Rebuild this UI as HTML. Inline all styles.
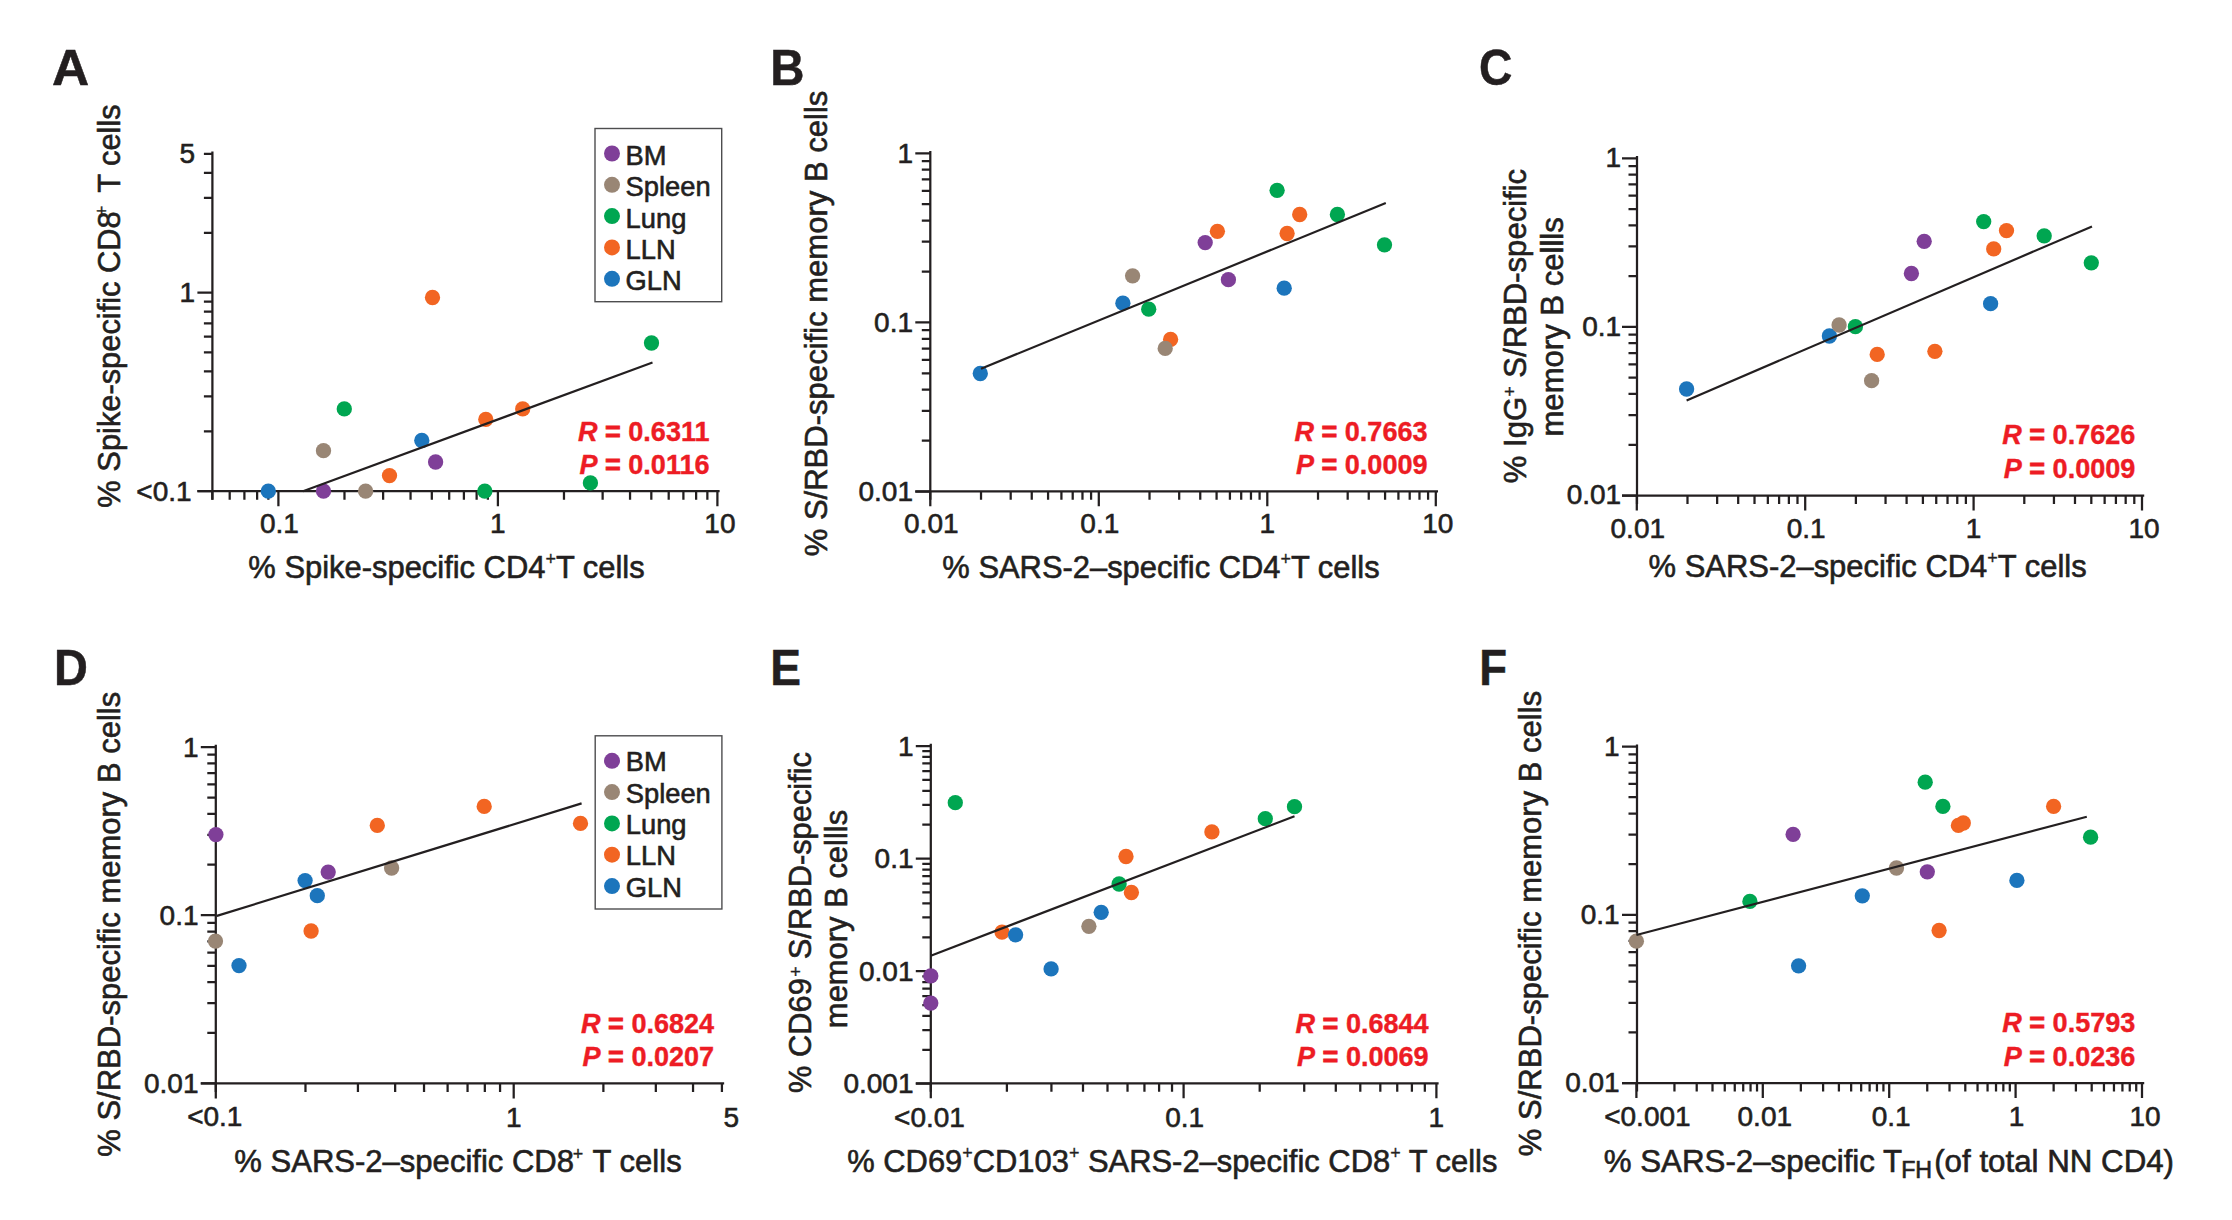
<!DOCTYPE html>
<html lang="en"><head><meta charset="utf-8"><title>Figure</title>
<style>
html,body{margin:0;padding:0;background:#fff;}
body{width:2232px;height:1220px;overflow:hidden;}
svg{display:block;font-family:"Liberation Sans",sans-serif;}
</style></head><body>
<svg width="2232" height="1220" viewBox="0 0 2232 1220">
<rect width="2232" height="1220" fill="#fff"/>
<g fill="none" stroke="#231f20" stroke-width="2.25"><path d="M212.40 151.53V499.70M197.40 491.20H719.62" /><path d="M278.40 491.20v15M497.90 491.20v15M717.40 491.20v15M212.32 491.20v8.5M229.70 491.20v8.5M244.40 491.20v8.5M257.13 491.20v8.5M268.36 491.20v8.5M344.48 491.20v8.5M383.13 491.20v8.5M410.55 491.20v8.5M431.82 491.20v8.5M449.20 491.20v8.5M463.90 491.20v8.5M476.63 491.20v8.5M487.86 491.20v8.5M563.98 491.20v8.5M602.63 491.20v8.5M630.05 491.20v8.5M651.32 491.20v8.5M668.70 491.20v8.5M683.40 491.20v8.5M696.13 491.20v8.5M707.36 491.20v8.5M212.40 491.00h-15M212.40 292.50h-15M212.40 153.75h-8.5M212.40 431.25h-8.5M212.40 396.29h-8.5M212.40 371.49h-8.5M212.40 352.25h-8.5M212.40 336.54h-8.5M212.40 323.25h-8.5M212.40 311.74h-8.5M212.40 301.58h-8.5M212.40 232.75h-8.5M212.40 197.79h-8.5M212.40 172.99h-8.5" /></g>
<g font-size="28" fill="#231f20" stroke="#231f20" stroke-width="0.6"><text x="279.40" y="533.00" text-anchor="middle">0.1</text><text x="497.90" y="533.00" text-anchor="middle">1</text><text x="719.90" y="533.00" text-anchor="middle">10</text><text x="191.60" y="500.70" text-anchor="end">&lt;0.1</text><text x="195.10" y="302.20" text-anchor="end">1</text><text x="195.10" y="163.45" text-anchor="end">5</text></g>
<g><circle cx="268.3" cy="491.2" r="7.65" fill="#1c75bc"/><circle cx="323.5" cy="491.2" r="7.65" fill="#7f3f98"/><circle cx="365.6" cy="491.2" r="7.65" fill="#998675"/><circle cx="484.8" cy="491.2" r="7.65" fill="#00a651"/><circle cx="590.4" cy="482.9" r="7.65" fill="#00a651"/><circle cx="389.5" cy="475.6" r="7.65" fill="#f26522"/><circle cx="435.6" cy="462.0" r="7.65" fill="#7f3f98"/><circle cx="323.5" cy="450.7" r="7.65" fill="#998675"/><circle cx="421.8" cy="440.5" r="7.65" fill="#1c75bc"/><circle cx="485.8" cy="419.4" r="7.65" fill="#f26522"/><circle cx="522.7" cy="408.9" r="7.65" fill="#f26522"/><circle cx="344.3" cy="408.9" r="7.65" fill="#00a651"/><circle cx="432.5" cy="297.5" r="7.65" fill="#f26522"/><circle cx="651.5" cy="343.0" r="7.65" fill="#00a651"/></g>
<path d="M303 491.2L652.5 362.5" stroke="#231f20" stroke-width="2.2" fill="none"/>
<g font-size="27.6" font-weight="bold" fill="#ed1c24" stroke="#ed1c24" stroke-width="0.4" text-anchor="end"><text transform="translate(709.5 440.7) scale(0.98 1)"><tspan font-style="italic">R</tspan><tspan stroke-width="0.8"> = </tspan>0.6311</text><text transform="translate(709.5 473.8) scale(0.98 1)"><tspan font-style="italic">P</tspan><tspan stroke-width="0.8"> = </tspan>0.0116</text></g>
<text transform="translate(52.12 84.50) scale(1.0360 1)" font-size="49.71" font-weight="bold" fill="#231f20" stroke="#231f20" stroke-width="0.5">A</text>
<text x="446.5" y="577.80" font-size="31" fill="#231f20" stroke="#231f20" stroke-width="0.6" text-anchor="middle" textLength="396.3" lengthAdjust="spacingAndGlyphs">% Spike-specific CD4<tspan dy="-12.8" dx="0" font-size="18" stroke-width="0.3">+</tspan><tspan dy="12.8" dx="0">T cells</tspan></text>
<text transform="translate(120 306) rotate(-90)" font-size="31" fill="#231f20" stroke="#231f20" stroke-width="0.6" text-anchor="middle" textLength="403.3" lengthAdjust="spacingAndGlyphs">% Spike-specific CD8<tspan dy="-12.3" dx="-4.6" font-size="18" stroke-width="0.3">+</tspan><tspan dy="12.3" dx="4.6"> T cells</tspan></text>
<rect x="595" y="128.5" width="126.70000000000005" height="173.2" fill="#fff" stroke="#4d4d4f" stroke-width="1.4"/>
<g font-size="27.3" fill="#231f20" stroke="#231f20" stroke-width="0.6"><circle cx="612" cy="153.5" r="8" fill="#7f3f98" stroke="none"/><text x="625.6" y="165.2">BM</text><circle cx="612" cy="184.8" r="8" fill="#998675" stroke="none"/><text x="625.6" y="196.3">Spleen</text><circle cx="612" cy="216.1" r="8" fill="#00a651" stroke="none"/><text x="625.6" y="227.5">Lung</text><circle cx="612" cy="247.4" r="8" fill="#f26522" stroke="none"/><text x="625.6" y="258.6">LLN</text><circle cx="612" cy="278.8" r="8" fill="#1c75bc" stroke="none"/><text x="625.6" y="289.8">GLN</text></g>
<g fill="none" stroke="#231f20" stroke-width="2.25"><path d="M930.30 151.08V499.80M915.30 491.30H1438.02" /><path d="M930.30 491.30v15M1098.80 491.30v15M1267.30 491.30v15M1435.80 491.30v15M981.02 491.30v8.5M1010.69 491.30v8.5M1031.75 491.30v8.5M1048.08 491.30v8.5M1061.42 491.30v8.5M1072.70 491.30v8.5M1082.47 491.30v8.5M1091.09 491.30v8.5M1149.52 491.30v8.5M1179.19 491.30v8.5M1200.25 491.30v8.5M1216.58 491.30v8.5M1229.92 491.30v8.5M1241.20 491.30v8.5M1250.97 491.30v8.5M1259.59 491.30v8.5M1318.02 491.30v8.5M1347.69 491.30v8.5M1368.75 491.30v8.5M1385.08 491.30v8.5M1398.42 491.30v8.5M1409.70 491.30v8.5M1419.47 491.30v8.5M1428.09 491.30v8.5M930.30 491.50h-15M930.30 322.40h-15M930.30 153.30h-15M930.30 440.60h-8.5M930.30 410.82h-8.5M930.30 389.69h-8.5M930.30 373.30h-8.5M930.30 359.91h-8.5M930.30 348.59h-8.5M930.30 338.79h-8.5M930.30 330.14h-8.5M930.30 271.50h-8.5M930.30 241.72h-8.5M930.30 220.59h-8.5M930.30 204.20h-8.5M930.30 190.81h-8.5M930.30 179.49h-8.5M930.30 169.69h-8.5M930.30 161.04h-8.5" /></g>
<g font-size="28" fill="#231f20" stroke="#231f20" stroke-width="0.6"><text x="931.30" y="533.30" text-anchor="middle">0.01</text><text x="1099.80" y="533.30" text-anchor="middle">0.1</text><text x="1267.30" y="533.30" text-anchor="middle">1</text><text x="1437.80" y="533.30" text-anchor="middle">10</text><text x="913.00" y="501.20" text-anchor="end">0.01</text><text x="913.00" y="332.10" text-anchor="end">0.1</text><text x="913.00" y="163.00" text-anchor="end">1</text></g>
<g><circle cx="1277.1" cy="190.3" r="7.65" fill="#00a651"/><circle cx="1299.7" cy="214.5" r="7.65" fill="#f26522"/><circle cx="1337.4" cy="214.5" r="7.65" fill="#00a651"/><circle cx="1217.4" cy="231.3" r="7.65" fill="#f26522"/><circle cx="1287.1" cy="233.5" r="7.65" fill="#f26522"/><circle cx="1205.2" cy="242.6" r="7.65" fill="#7f3f98"/><circle cx="1384.5" cy="244.8" r="7.65" fill="#00a651"/><circle cx="1132.6" cy="275.8" r="7.65" fill="#998675"/><circle cx="1228.4" cy="279.7" r="7.65" fill="#7f3f98"/><circle cx="1284.2" cy="288.2" r="7.65" fill="#1c75bc"/><circle cx="1122.9" cy="303.2" r="7.65" fill="#1c75bc"/><circle cx="1148.7" cy="309.2" r="7.65" fill="#00a651"/><circle cx="980.3" cy="373.5" r="7.65" fill="#1c75bc"/><circle cx="1170.6" cy="339.4" r="7.65" fill="#f26522"/><circle cx="1165.2" cy="348.4" r="7.65" fill="#998675"/></g>
<path d="M981 368.7L1385.8 202.9" stroke="#231f20" stroke-width="2.2" fill="none"/>
<g font-size="27.6" font-weight="bold" fill="#ed1c24" stroke="#ed1c24" stroke-width="0.4" text-anchor="end"><text transform="translate(1427.5 440.8) scale(0.98 1)"><tspan font-style="italic">R</tspan><tspan stroke-width="0.8"> = </tspan>0.7663</text><text transform="translate(1427.5 474.0) scale(0.98 1)"><tspan font-style="italic">P</tspan><tspan stroke-width="0.8"> = </tspan>0.0009</text></g>
<text transform="translate(770.23 84.50) scale(0.9533 1)" font-size="49.71" font-weight="bold" fill="#231f20" stroke="#231f20" stroke-width="0.5">B</text>
<text x="1161" y="577.60" font-size="31" fill="#231f20" stroke="#231f20" stroke-width="0.6" text-anchor="middle" textLength="437.3" lengthAdjust="spacingAndGlyphs">% SARS-2–specific CD4<tspan dy="-12.8" dx="0" font-size="18" stroke-width="0.3">+</tspan><tspan dy="12.8" dx="0">T cells</tspan></text>
<text transform="translate(826.6 323.5) rotate(-90)" font-size="31" fill="#231f20" stroke="#231f20" stroke-width="0.6" text-anchor="middle" textLength="465.7" lengthAdjust="spacingAndGlyphs">% S/RBD-specific memory B cells</text>
<g fill="none" stroke="#231f20" stroke-width="2.25"><path d="M1637.00 156.08V504.00M1622.00 495.50H2144.22" /><path d="M1636.80 495.50v15M1805.20 495.50v15M1973.60 495.50v15M2142.00 495.50v15M1687.49 495.50v8.5M1717.15 495.50v8.5M1738.19 495.50v8.5M1754.51 495.50v8.5M1767.84 495.50v8.5M1779.11 495.50v8.5M1788.88 495.50v8.5M1797.49 495.50v8.5M1855.89 495.50v8.5M1885.55 495.50v8.5M1906.59 495.50v8.5M1922.91 495.50v8.5M1936.24 495.50v8.5M1947.51 495.50v8.5M1957.28 495.50v8.5M1965.89 495.50v8.5M2024.29 495.50v8.5M2053.95 495.50v8.5M2074.99 495.50v8.5M2091.31 495.50v8.5M2104.64 495.50v8.5M2115.91 495.50v8.5M2125.68 495.50v8.5M2134.29 495.50v8.5M1637.00 495.50h-15M1637.00 326.90h-15M1637.00 158.30h-15M1637.00 444.75h-8.5M1637.00 415.06h-8.5M1637.00 393.99h-8.5M1637.00 377.65h-8.5M1637.00 364.30h-8.5M1637.00 353.02h-8.5M1637.00 343.24h-8.5M1637.00 334.61h-8.5M1637.00 276.15h-8.5M1637.00 246.46h-8.5M1637.00 225.39h-8.5M1637.00 209.05h-8.5M1637.00 195.70h-8.5M1637.00 184.42h-8.5M1637.00 174.64h-8.5M1637.00 166.01h-8.5" /></g>
<g font-size="28" fill="#231f20" stroke="#231f20" stroke-width="0.6"><text x="1637.80" y="537.50" text-anchor="middle">0.01</text><text x="1806.20" y="537.50" text-anchor="middle">0.1</text><text x="1973.60" y="537.50" text-anchor="middle">1</text><text x="2144.00" y="537.50" text-anchor="middle">10</text><text x="1621.20" y="504.20" text-anchor="end">0.01</text><text x="1621.20" y="335.60" text-anchor="end">0.1</text><text x="1621.20" y="167.00" text-anchor="end">1</text></g>
<g><circle cx="1983.7" cy="221.6" r="7.65" fill="#00a651"/><circle cx="2006.5" cy="230.6" r="7.65" fill="#f26522"/><circle cx="2044.2" cy="235.8" r="7.65" fill="#00a651"/><circle cx="1924.2" cy="241.3" r="7.65" fill="#7f3f98"/><circle cx="1993.7" cy="248.9" r="7.65" fill="#f26522"/><circle cx="2091.3" cy="262.8" r="7.65" fill="#00a651"/><circle cx="1911.4" cy="273.5" r="7.65" fill="#7f3f98"/><circle cx="1990.6" cy="303.7" r="7.65" fill="#1c75bc"/><circle cx="1686.6" cy="389.0" r="7.65" fill="#1c75bc"/><circle cx="1829.4" cy="336.0" r="7.65" fill="#1c75bc"/><circle cx="1839.1" cy="325.0" r="7.65" fill="#998675"/><circle cx="1855.4" cy="326.7" r="7.65" fill="#00a651"/><circle cx="1877.2" cy="354.4" r="7.65" fill="#f26522"/><circle cx="1871.6" cy="380.7" r="7.65" fill="#998675"/><circle cx="1934.9" cy="351.3" r="7.65" fill="#f26522"/></g>
<path d="M1686.6 400.4L2092 226.4" stroke="#231f20" stroke-width="2.2" fill="none"/>
<g font-size="27.6" font-weight="bold" fill="#ed1c24" stroke="#ed1c24" stroke-width="0.4" text-anchor="end"><text transform="translate(2135.3 444.1) scale(0.98 1)"><tspan font-style="italic">R</tspan><tspan stroke-width="0.8"> = </tspan>0.7626</text><text transform="translate(2135.3 477.7) scale(0.98 1)"><tspan font-style="italic">P</tspan><tspan stroke-width="0.8"> = </tspan>0.0009</text></g>
<text transform="translate(1479.01 85.00) scale(0.9110 1)" font-size="50.71" font-weight="bold" fill="#231f20" stroke="#231f20" stroke-width="0.5">C</text>
<text x="1867.6" y="577.20" font-size="31" fill="#231f20" stroke="#231f20" stroke-width="0.6" text-anchor="middle" textLength="438.1" lengthAdjust="spacingAndGlyphs">% SARS-2–specific CD4<tspan dy="-12.8" dx="0" font-size="18" stroke-width="0.3">+</tspan><tspan dy="12.8" dx="0">T cells</tspan></text>
<text transform="translate(1525.9 326) rotate(-90)" font-size="31" fill="#231f20" stroke="#231f20" stroke-width="0.6" text-anchor="middle" textLength="314.3" lengthAdjust="spacingAndGlyphs">% IgG<tspan dy="-9.5" dx="0" font-size="18" stroke-width="0.3">+</tspan><tspan dy="9.5" dx="0"> S/RBD-specific</tspan></text>
<text transform="translate(1562.6 326.9) rotate(-90)" font-size="31" fill="#231f20" stroke="#231f20" stroke-width="0.6" text-anchor="middle" textLength="219.3" lengthAdjust="spacingAndGlyphs">memory B cellls</text>
<g fill="none" stroke="#231f20" stroke-width="2.25"><path d="M215.80 744.78V1091.90M200.80 1083.40H724.15" /><path d="M215.80 1083.40v15M513.70 1083.40v15M721.92 1083.40v8.5M305.48 1083.40v8.5M357.93 1083.40v8.5M395.15 1083.40v8.5M424.02 1083.40v8.5M447.61 1083.40v8.5M467.55 1083.40v8.5M484.83 1083.40v8.5M500.07 1083.40v8.5M603.38 1083.40v8.5M655.83 1083.40v8.5M693.05 1083.40v8.5M215.80 1083.40h-15M215.80 915.20h-15M215.80 747.00h-15M215.80 1032.77h-8.5M215.80 1003.15h-8.5M215.80 982.13h-8.5M215.80 965.83h-8.5M215.80 952.51h-8.5M215.80 941.25h-8.5M215.80 931.50h-8.5M215.80 922.90h-8.5M215.80 864.57h-8.5M215.80 834.95h-8.5M215.80 813.93h-8.5M215.80 797.63h-8.5M215.80 784.31h-8.5M215.80 773.05h-8.5M215.80 763.30h-8.5M215.80 754.70h-8.5" /></g>
<g font-size="28" fill="#231f20" stroke="#231f20" stroke-width="0.6"><text x="214.80" y="1125.50" text-anchor="middle">&lt;0.1</text><text x="513.70" y="1126.70" text-anchor="middle">1</text><text x="731.22" y="1126.70" text-anchor="middle">5</text><text x="198.50" y="1093.10" text-anchor="end">0.01</text><text x="198.50" y="924.90" text-anchor="end">0.1</text><text x="198.50" y="756.70" text-anchor="end">1</text></g>
<g><circle cx="215.9" cy="834.6" r="7.65" fill="#7f3f98"/><circle cx="377.3" cy="825.4" r="7.65" fill="#f26522"/><circle cx="484.2" cy="806.4" r="7.65" fill="#f26522"/><circle cx="580.5" cy="823.4" r="7.65" fill="#f26522"/><circle cx="391.6" cy="868.0" r="7.65" fill="#998675"/><circle cx="328.2" cy="872.1" r="7.65" fill="#7f3f98"/><circle cx="305.1" cy="880.6" r="7.65" fill="#1c75bc"/><circle cx="317.3" cy="895.7" r="7.65" fill="#1c75bc"/><circle cx="311.1" cy="931.0" r="7.65" fill="#f26522"/><circle cx="215.5" cy="941.1" r="7.65" fill="#998675"/><circle cx="239.0" cy="965.6" r="7.65" fill="#1c75bc"/></g>
<path d="M216.9 915.9L581.6 803.4" stroke="#231f20" stroke-width="2.2" fill="none"/>
<g font-size="27.6" font-weight="bold" fill="#ed1c24" stroke="#ed1c24" stroke-width="0.4" text-anchor="end"><text transform="translate(714.1 1032.8) scale(0.98 1)"><tspan font-style="italic">R</tspan><tspan stroke-width="0.8"> = </tspan>0.6824</text><text transform="translate(714.1 1065.8) scale(0.98 1)"><tspan font-style="italic">P</tspan><tspan stroke-width="0.8"> = </tspan>0.0207</text></g>
<text transform="translate(54.06 684.50) scale(0.9447 1)" font-size="49.71" font-weight="bold" fill="#231f20" stroke="#231f20" stroke-width="0.5">D</text>
<text x="458" y="1171.70" font-size="31" fill="#231f20" stroke="#231f20" stroke-width="0.6" text-anchor="middle" textLength="447.3" lengthAdjust="spacingAndGlyphs">% SARS-2–specific CD8<tspan dy="-12" dx="-1.2" font-size="18" stroke-width="0.3">+</tspan><tspan dy="12" dx="1.2"> T cells</tspan></text>
<text transform="translate(120.2 924.3) rotate(-90)" font-size="31" fill="#231f20" stroke="#231f20" stroke-width="0.6" text-anchor="middle" textLength="464.9" lengthAdjust="spacingAndGlyphs">% S/RBD-specific memory B cells</text>
<rect x="595.2" y="735.8" width="126.69999999999993" height="173.20000000000005" fill="#fff" stroke="#4d4d4f" stroke-width="1.4"/>
<g font-size="27.3" fill="#231f20" stroke="#231f20" stroke-width="0.6"><circle cx="612.0" cy="760.8" r="8" fill="#7f3f98" stroke="none"/><text x="625.8" y="771.1">BM</text><circle cx="612.0" cy="792.1" r="8" fill="#998675" stroke="none"/><text x="625.8" y="802.8">Spleen</text><circle cx="612.0" cy="823.4" r="8" fill="#00a651" stroke="none"/><text x="625.8" y="834.0">Lung</text><circle cx="612.0" cy="854.7" r="8" fill="#f26522" stroke="none"/><text x="625.8" y="865.1">LLN</text><circle cx="612.0" cy="886.1" r="8" fill="#1c75bc" stroke="none"/><text x="625.8" y="897.1">GLN</text></g>
<g fill="none" stroke="#231f20" stroke-width="2.25"><path d="M930.80 743.83V1091.80M915.80 1083.30H1438.62" /><path d="M930.80 1083.30v15M1183.60 1083.30v15M1436.40 1083.30v15M1006.90 1083.30v8.5M1051.42 1083.30v8.5M1083.00 1083.30v8.5M1107.50 1083.30v8.5M1127.52 1083.30v8.5M1144.44 1083.30v8.5M1159.10 1083.30v8.5M1172.03 1083.30v8.5M1259.70 1083.30v8.5M1304.22 1083.30v8.5M1335.80 1083.30v8.5M1360.30 1083.30v8.5M1380.32 1083.30v8.5M1397.24 1083.30v8.5M1411.90 1083.30v8.5M1424.83 1083.30v8.5M930.80 1083.70h-15M930.80 971.15h-15M930.80 858.60h-15M930.80 746.05h-15M930.80 1049.82h-8.5M930.80 1030.00h-8.5M930.80 1015.94h-8.5M930.80 1005.03h-8.5M930.80 996.12h-8.5M930.80 988.58h-8.5M930.80 982.06h-8.5M930.80 976.30h-8.5M930.80 937.27h-8.5M930.80 917.45h-8.5M930.80 903.39h-8.5M930.80 892.48h-8.5M930.80 883.57h-8.5M930.80 876.03h-8.5M930.80 869.51h-8.5M930.80 863.75h-8.5M930.80 824.72h-8.5M930.80 804.90h-8.5M930.80 790.84h-8.5M930.80 779.93h-8.5M930.80 771.02h-8.5M930.80 763.48h-8.5M930.80 756.96h-8.5M930.80 751.20h-8.5" /></g>
<g font-size="28" fill="#231f20" stroke="#231f20" stroke-width="0.6"><text x="929.50" y="1126.60" text-anchor="middle">&lt;0.01</text><text x="1184.60" y="1126.60" text-anchor="middle">0.1</text><text x="1436.40" y="1126.60" text-anchor="middle">1</text><text x="913.50" y="1093.40" text-anchor="end">0.001</text><text x="913.50" y="980.85" text-anchor="end">0.01</text><text x="913.50" y="868.30" text-anchor="end">0.1</text><text x="913.50" y="755.75" text-anchor="end">1</text></g>
<g><circle cx="955.3" cy="802.7" r="7.65" fill="#00a651"/><circle cx="1294.5" cy="806.7" r="7.65" fill="#00a651"/><circle cx="1265.3" cy="818.7" r="7.65" fill="#00a651"/><circle cx="1211.9" cy="831.9" r="7.65" fill="#f26522"/><circle cx="1126.0" cy="856.5" r="7.65" fill="#f26522"/><circle cx="1119.1" cy="884.0" r="7.65" fill="#00a651"/><circle cx="1131.4" cy="892.5" r="7.65" fill="#f26522"/><circle cx="1101.2" cy="912.3" r="7.65" fill="#1c75bc"/><circle cx="1088.9" cy="926.3" r="7.65" fill="#998675"/><circle cx="930.8" cy="975.9" r="7.65" fill="#7f3f98"/><circle cx="930.8" cy="1003.1" r="7.65" fill="#7f3f98"/><circle cx="1002.0" cy="932.1" r="7.65" fill="#f26522"/><circle cx="1015.6" cy="934.8" r="7.65" fill="#1c75bc"/><circle cx="1051.1" cy="968.9" r="7.65" fill="#1c75bc"/></g>
<path d="M930.8 955.7L1294.5 816.3" stroke="#231f20" stroke-width="2.2" fill="none"/>
<g font-size="27.6" font-weight="bold" fill="#ed1c24" stroke="#ed1c24" stroke-width="0.4" text-anchor="end"><text transform="translate(1428.6 1033.1) scale(0.98 1)"><tspan font-style="italic">R</tspan><tspan stroke-width="0.8"> = </tspan>0.6844</text><text transform="translate(1428.6 1065.6) scale(0.98 1)"><tspan font-style="italic">P</tspan><tspan stroke-width="0.8"> = </tspan>0.0069</text></g>
<text transform="translate(770.31 684.50) scale(0.9287 1)" font-size="49.71" font-weight="bold" fill="#231f20" stroke="#231f20" stroke-width="0.5">E</text>
<text x="1172.3" y="1172.00" font-size="31" fill="#231f20" stroke="#231f20" stroke-width="0.6" text-anchor="middle" textLength="650.1" lengthAdjust="spacingAndGlyphs">% CD69<tspan dy="-13.5" font-size="18" stroke-width="0.3">+</tspan><tspan dy="13.5">CD103</tspan><tspan dy="-13.5" font-size="18" stroke-width="0.3">+</tspan><tspan dy="13.5"> SARS-2–specific CD8</tspan><tspan dy="-12.8" dx="0" font-size="18" stroke-width="0.3">+</tspan><tspan dy="12.8" dx="0"> T cells</tspan></text>
<text transform="translate(810.5 922.5) rotate(-90)" font-size="31" fill="#231f20" stroke="#231f20" stroke-width="0.6" text-anchor="middle" textLength="340.9" lengthAdjust="spacingAndGlyphs">% CD69<tspan dy="-9" dx="1.5" font-size="18" stroke-width="0.3">+</tspan><tspan dy="9" dx="-1.5"> S/RBD-specific</tspan></text>
<text transform="translate(847.2 919) rotate(-90)" font-size="31" fill="#231f20" stroke="#231f20" stroke-width="0.6" text-anchor="middle" textLength="218.3" lengthAdjust="spacingAndGlyphs">memory B cellls</text>
<g fill="none" stroke="#231f20" stroke-width="2.25"><path d="M1637.00 744.38V1091.50M1622.00 1083.00H2144.22" /><path d="M1636.40 1083.00v15M1762.80 1083.00v15M1889.20 1083.00v15M2015.60 1083.00v15M2142.00 1083.00v15M1674.45 1083.00v8.5M1696.71 1083.00v8.5M1712.50 1083.00v8.5M1724.75 1083.00v8.5M1734.76 1083.00v8.5M1743.22 1083.00v8.5M1750.55 1083.00v8.5M1757.02 1083.00v8.5M1800.85 1083.00v8.5M1823.11 1083.00v8.5M1838.90 1083.00v8.5M1851.15 1083.00v8.5M1861.16 1083.00v8.5M1869.62 1083.00v8.5M1876.95 1083.00v8.5M1883.42 1083.00v8.5M1927.25 1083.00v8.5M1949.51 1083.00v8.5M1965.30 1083.00v8.5M1977.55 1083.00v8.5M1987.56 1083.00v8.5M1996.02 1083.00v8.5M2003.35 1083.00v8.5M2009.82 1083.00v8.5M2053.65 1083.00v8.5M2075.91 1083.00v8.5M2091.70 1083.00v8.5M2103.95 1083.00v8.5M2113.96 1083.00v8.5M2122.42 1083.00v8.5M2129.75 1083.00v8.5M2136.22 1083.00v8.5M1637.00 1083.00h-15M1637.00 914.80h-15M1637.00 746.60h-15M1637.00 1032.37h-8.5M1637.00 1002.75h-8.5M1637.00 981.73h-8.5M1637.00 965.43h-8.5M1637.00 952.11h-8.5M1637.00 940.85h-8.5M1637.00 931.10h-8.5M1637.00 922.50h-8.5M1637.00 864.17h-8.5M1637.00 834.55h-8.5M1637.00 813.53h-8.5M1637.00 797.23h-8.5M1637.00 783.91h-8.5M1637.00 772.65h-8.5M1637.00 762.90h-8.5M1637.00 754.30h-8.5" /></g>
<g font-size="28" fill="#231f20" stroke="#231f20" stroke-width="0.6"><text x="1647.40" y="1126.30" text-anchor="middle">&lt;0.001</text><text x="1764.80" y="1126.30" text-anchor="middle">0.01</text><text x="1891.20" y="1126.30" text-anchor="middle">0.1</text><text x="2016.60" y="1126.30" text-anchor="middle">1</text><text x="2145.00" y="1126.30" text-anchor="middle">10</text><text x="1619.70" y="1092.20" text-anchor="end">0.01</text><text x="1619.70" y="924.00" text-anchor="end">0.1</text><text x="1619.70" y="755.50" text-anchor="end">1</text></g>
<g><circle cx="1925.2" cy="782.2" r="7.65" fill="#00a651"/><circle cx="1942.9" cy="806.4" r="7.65" fill="#00a651"/><circle cx="1958.4" cy="825.4" r="7.65" fill="#f26522"/><circle cx="1963.3" cy="823.0" r="7.65" fill="#f26522"/><circle cx="2053.6" cy="806.4" r="7.65" fill="#f26522"/><circle cx="2090.6" cy="837.2" r="7.65" fill="#00a651"/><circle cx="1793.1" cy="834.4" r="7.65" fill="#7f3f98"/><circle cx="1896.5" cy="868.0" r="7.65" fill="#998675"/><circle cx="1927.3" cy="871.8" r="7.65" fill="#7f3f98"/><circle cx="2016.9" cy="880.4" r="7.65" fill="#1c75bc"/><circle cx="1862.3" cy="895.8" r="7.65" fill="#1c75bc"/><circle cx="1749.9" cy="901.4" r="7.65" fill="#00a651"/><circle cx="1939.1" cy="930.5" r="7.65" fill="#f26522"/><circle cx="1636.4" cy="941.2" r="7.65" fill="#998675"/><circle cx="1798.6" cy="965.8" r="7.65" fill="#1c75bc"/></g>
<path d="M1636.4 935L2086.8 816.8" stroke="#231f20" stroke-width="2.2" fill="none"/>
<g font-size="27.6" font-weight="bold" fill="#ed1c24" stroke="#ed1c24" stroke-width="0.4" text-anchor="end"><text transform="translate(2135.3 1032.3) scale(0.98 1)"><tspan font-style="italic">R</tspan><tspan stroke-width="0.8"> = </tspan>0.5793</text><text transform="translate(2135.3 1065.9) scale(0.98 1)"><tspan font-style="italic">P</tspan><tspan stroke-width="0.8"> = </tspan>0.0236</text></g>
<text transform="translate(1479.35 684.50) scale(0.9160 1)" font-size="49.71" font-weight="bold" fill="#231f20" stroke="#231f20" stroke-width="0.5">F</text>
<text x="1888.9" y="1171.70" font-size="31" fill="#231f20" stroke="#231f20" stroke-width="0.6" text-anchor="middle" textLength="570.3" lengthAdjust="spacingAndGlyphs">% SARS-2–specific T<tspan dy="6" dx="-1" font-size="23">FH</tspan><tspan dy="-6" dx="-6.5"> (of total NN CD4)</tspan></text>
<text transform="translate(1541.4 923.5) rotate(-90)" font-size="31" fill="#231f20" stroke="#231f20" stroke-width="0.6" text-anchor="middle" textLength="465.3" lengthAdjust="spacingAndGlyphs">% S/RBD-specific memory B cells</text>
</svg>
</body></html>
